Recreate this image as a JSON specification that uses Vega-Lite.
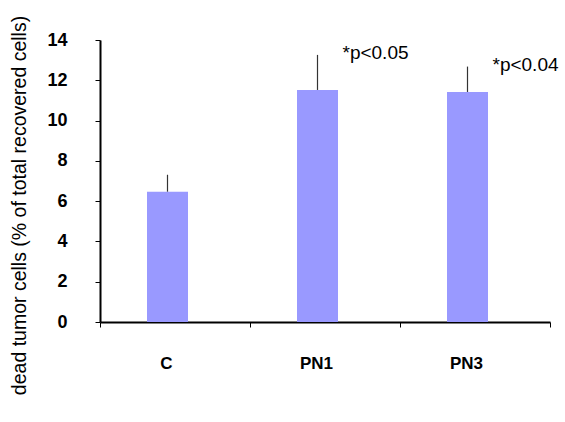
{
  "$schema": "https://vega.github.io/schema/vega-lite/v6.json",
  "autosize": "none",
  "width": 450,
  "height": 282,
  "padding": {"left": 100, "top": 40, "right": 15, "bottom": 100},
  "background": "white",
  "config": {"view": {"stroke": null}, "font": "Liberation Sans"},
  "data": {
    "values": [
      {"group": "C", "value": 6.47, "err": 7.31, "note": ""},
      {"group": "PN1", "value": 11.52, "err": 13.26, "note": "*p<0.05"},
      {"group": "PN3", "value": 11.42, "err": 12.68, "note": "*p<0.04"}
    ]
  },
  "encoding": {
    "x": {
      "field": "group",
      "type": "nominal",
      "sort": ["C", "PN1", "PN3"],
      "scale": {"paddingInner": 0, "paddingOuter": 0},
      "axis": {
        "title": null,
        "labelAngle": 0,
        "labelFont": "Liberation Sans",
        "labelFontSize": 17,
        "labelFontWeight": "bold",
        "labelColor": "black",
        "labelPadding": 28,
        "labelOffset": -9,
        "tickBand": "extent",
        "tickSize": 5,
        "tickColor": "black",
        "tickWidth": 1,
        "domainColor": "black",
        "domainWidth": 2
      }
    }
  },
  "layer": [
    {
      "mark": {"type": "bar", "color": "#9999FF", "width": 41, "xOffset": -7.5},
      "encoding": {
        "y": {
          "field": "value",
          "type": "quantitative",
          "scale": {"domain": [0, 14]},
          "axis": {
            "values": [0, 2, 4, 6, 8, 10, 12, 14],
            "grid": false,
            "title": "dead tumor cells (% of total recovered cells)",
            "titleFont": "Liberation Sans",
            "titleFontSize": 19.5,
            "titleFontWeight": "normal",
            "titleColor": "black",
            "titleAngle": -90,
            "titleAlign": "center",
            "titleBaseline": "middle",
            "titleX": -81,
            "titleY": 165,
            "labelFont": "Liberation Sans",
            "labelFontSize": 18,
            "labelFontWeight": "bold",
            "labelColor": "black",
            "labelPadding": 28,
            "tickSize": 5,
            "tickColor": "black",
            "domainColor": "black",
            "domainWidth": 2
          }
        }
      }
    },
    {
      "mark": {"type": "rule", "color": "#333333", "strokeWidth": 1.2, "xOffset": -7.5},
      "encoding": {
        "y": {"field": "value", "type": "quantitative"},
        "y2": {"field": "err"}
      }
    },
    {
      "mark": {"type": "text", "align": "left", "baseline": "alphabetic", "dx": 17.5, "dy": 4, "fontSize": 19, "font": "Liberation Sans", "color": "black"},
      "encoding": {
        "y": {"field": "err", "type": "quantitative"},
        "text": {"field": "note"}
      }
    }
  ]
}
